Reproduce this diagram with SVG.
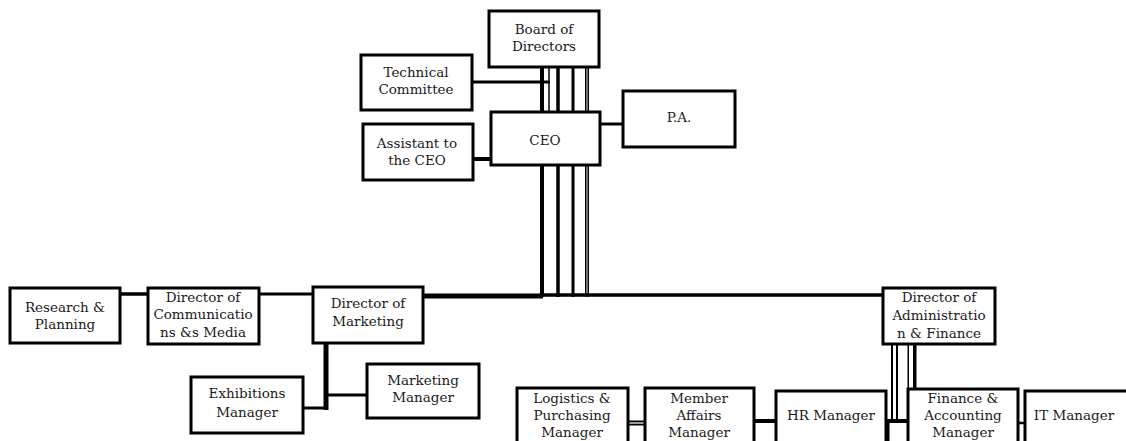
<svg xmlns="http://www.w3.org/2000/svg" width="1126" height="441" viewBox="0 0 1126 441">
  <style>
    .box { fill: #fff; stroke: #000; stroke-width: 3; }
    .lbl { font-family: "DejaVu Serif", "Liberation Serif", serif; font-size: 13.5px; fill: #1a1a1a; text-anchor: middle; }
    .ln { stroke: #000; fill: none; stroke-linecap: butt; }
    .gin { stroke: #9a9a9a; fill: none; }
  </style>
  <rect width="1126" height="441" fill="#fff"/>

  <!-- connectors (drawn first so boxes sit on top) -->
  <g id="connectors">
    <!-- board / CEO trunk -->
    <line class="ln" x1="542" y1="66" x2="542" y2="297" stroke-width="4"/>
    <line class="ln" x1="549" y1="66" x2="549" y2="112" stroke-width="1.5"/>
    <line class="ln" x1="558" y1="66" x2="558" y2="297" stroke-width="3.5"/>
    <line class="ln" x1="573" y1="66" x2="573" y2="297" stroke-width="3"/>
    <line class="ln" x1="587" y1="66" x2="587" y2="297" stroke-width="4"/>
    <line class="gin" x1="587" y1="66" x2="587" y2="297" stroke-width="1.5"/>
    <!-- side offices -->
    <line class="ln" x1="472" y1="82" x2="550" y2="82" stroke-width="3"/>
    <line class="ln" x1="473" y1="159" x2="490" y2="159" stroke-width="4"/>
    <line class="ln" x1="600" y1="124" x2="623" y2="124" stroke-width="3"/>
    <!-- main horizontal -->
    <line class="ln" x1="422" y1="296" x2="543" y2="296" stroke-width="5"/>
    <line class="ln" x1="543" y1="295" x2="884" y2="295" stroke-width="3.5"/>
    <!-- marketing side -->
    <line class="ln" x1="120" y1="294" x2="148" y2="294" stroke-width="3.5"/>
    <line class="ln" x1="259" y1="294" x2="313" y2="294" stroke-width="3"/>
    <line class="ln" x1="326" y1="343" x2="326" y2="410" stroke-width="5"/>
    <line class="ln" x1="326" y1="395" x2="367" y2="395" stroke-width="3"/>
    <line class="ln" x1="303" y1="408" x2="328" y2="408" stroke-width="3"/>
    <!-- administration side -->
    <line class="ln" x1="894.5" y1="344" x2="894.5" y2="421" stroke-width="7"/>
    <line class="gin" x1="894.5" y1="344" x2="894.5" y2="419" stroke-width="3" style="stroke:#fff"/>
    <line class="ln" x1="912" y1="344" x2="912" y2="389" stroke-width="9"/>
    <line x1="911" y1="344" x2="911" y2="388" stroke="#fff" stroke-width="4"/>
    <line class="ln" x1="886" y1="421" x2="908" y2="421" stroke-width="4"/>
    <line class="ln" x1="888" y1="421" x2="888" y2="441" stroke-width="3"/>
    <line class="ln" x1="628" y1="423" x2="645" y2="423" stroke-width="5"/>
    <line class="gin" x1="628" y1="423" x2="645" y2="423" stroke-width="2"/>
    <line class="ln" x1="754" y1="421" x2="776" y2="421" stroke-width="4"/>
    <line class="ln" x1="1018" y1="423" x2="1025" y2="423" stroke-width="2.5"/>
  </g>

  <g id="board">
    <rect class="box" x="489" y="11" width="110" height="56"/>
    <text class="lbl" x="544" y="34">Board of</text>
    <text class="lbl" x="544" y="51">Directors</text>
  </g>
  <g id="technical-committee">
    <rect class="box" x="361" y="55" width="111" height="55"/>
    <text class="lbl" x="416" y="77">Technical</text>
    <text class="lbl" x="416" y="94">Committee</text>
  </g>
  <g id="ceo">
    <rect class="box" x="491" y="112" width="109" height="53"/>
    <text class="lbl" x="545" y="145">CEO</text>
  </g>
  <g id="assistant">
    <rect class="box" x="363" y="124" width="110" height="56"/>
    <text class="lbl" x="417" y="148">Assistant to</text>
    <text class="lbl" x="417" y="165">the CEO</text>
  </g>
  <g id="pa">
    <rect class="box" x="623" y="91" width="112" height="56"/>
    <text class="lbl" x="679" y="122">P.A.</text>
  </g>
  <g id="research">
    <rect class="box" x="10" y="288" width="110" height="55"/>
    <text class="lbl" x="65" y="312">Research &amp;</text>
    <text class="lbl" x="65" y="329">Planning</text>
  </g>
  <g id="dir-communications">
    <rect class="box" x="148" y="288" width="111" height="56"/>
    <text class="lbl" x="203" y="302">Director of</text>
    <text class="lbl" x="203" y="319">Communicatio</text>
    <text class="lbl" x="203" y="337">ns &amp;s Media</text>
  </g>
  <g id="dir-marketing">
    <rect class="box" x="313" y="287" width="110" height="56"/>
    <text class="lbl" x="368" y="308">Director of</text>
    <text class="lbl" x="368" y="326">Marketing</text>
  </g>
  <g id="exhibitions">
    <rect class="box" x="191" y="377" width="112" height="56"/>
    <text class="lbl" x="247" y="398">Exhibitions</text>
    <text class="lbl" x="247" y="417">Manager</text>
  </g>
  <g id="marketing-manager">
    <rect class="box" x="367" y="364" width="112" height="54"/>
    <text class="lbl" x="423" y="385">Marketing</text>
    <text class="lbl" x="423" y="402">Manager</text>
  </g>
  <g id="dir-administration">
    <rect class="box" x="883" y="288" width="112" height="56"/>
    <text class="lbl" x="939" y="302">Director of</text>
    <text class="lbl" x="939" y="320">Administratio</text>
    <text class="lbl" x="939" y="338">n &amp; Finance</text>
  </g>
  <g id="logistics">
    <rect class="box" x="517" y="388" width="111" height="60"/>
    <text class="lbl" x="572" y="403">Logistics &amp;</text>
    <text class="lbl" x="572" y="420">Purchasing</text>
    <text class="lbl" x="572" y="437">Manager</text>
  </g>
  <g id="member-affairs">
    <rect class="box" x="645" y="388" width="109" height="60"/>
    <text class="lbl" x="699" y="403">Member</text>
    <text class="lbl" x="699" y="420">Affairs</text>
    <text class="lbl" x="699" y="437">Manager</text>
  </g>
  <g id="hr">
    <rect class="box" x="776" y="391" width="110" height="57"/>
    <text class="lbl" x="831" y="420">HR Manager</text>
  </g>
  <g id="finance">
    <rect class="box" x="908" y="389" width="110" height="59"/>
    <text class="lbl" x="963" y="403">Finance &amp;</text>
    <text class="lbl" x="963" y="420">Accounting</text>
    <text class="lbl" x="963" y="437">Manager</text>
  </g>
  <g id="it">
    <rect class="box" x="1025" y="391" width="105" height="57"/>
    <text class="lbl" x="1074" y="420">IT Manager</text>
  </g>
</svg>
